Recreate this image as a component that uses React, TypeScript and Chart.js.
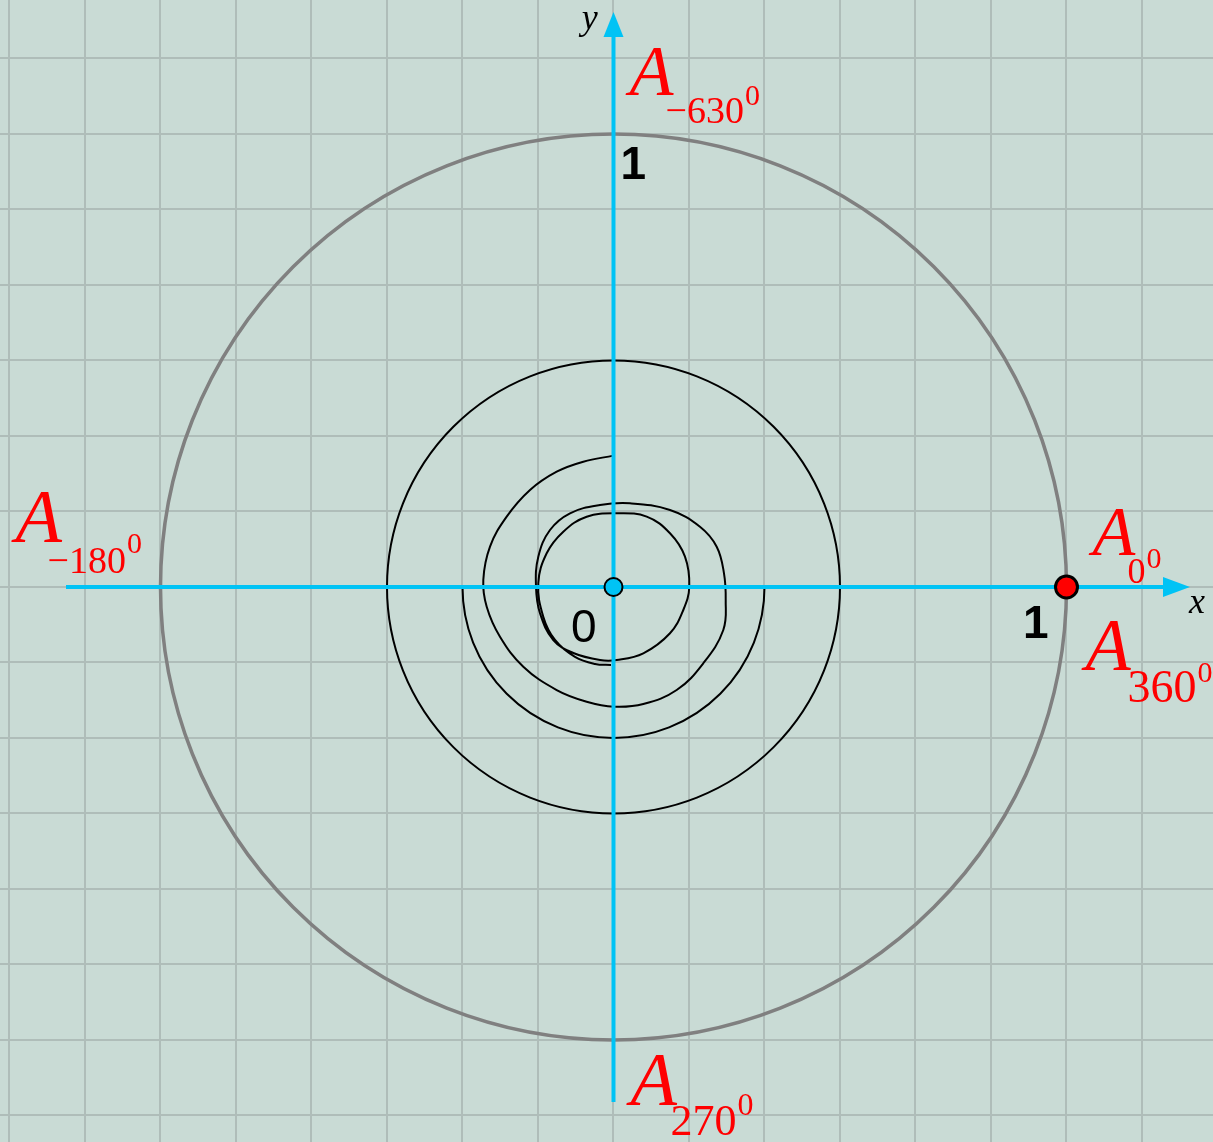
import React, { useEffect, useRef } from "react";
import { Chart, registerables } from "chart.js";

Chart.register(...registerables);

// ---- data (unit circle coordinates) ----
const X_RANGE = [-1.3543, 1.3234];
const Y_RANGE = [-1.2252, 1.2958];
const GRID_STEPS = [-8, -7, -6, -5, -4, -3, -2, -1, 0, 1, 2, 3, 4, 5, 6, 7, 8];
const GRID_DIVISOR = 6;

// circles: radius values
const CIRCLE_RADII = [1, 0.5];
const SEMI_RADIUS = 1 / 3;

// spiral
const SPIRAL_X = [
  0, -0.0667, -0.1254, -0.1843, -0.2358, -0.2726, -0.2874, -0.2799, -0.2506, -0.1991,
  -0.1254, -0.0592, 0.0011, 0.0658, 0.1395, 0.1982, 0.2424, 0.2477, 0.2439, 0.2278,
  0.1909, 0.1247, 0.0364, -0.0298, -0.096, -0.1402, -0.166, -0.1711, -0.1623, -0.1329,
  -0.0887, -0.0298, 0.0071, 0.0658, 0.1247, 0.1541, 0.1673, 0.1578, 0.1247, 0.0733,
  0.0071, -0.0592, -0.1108, -0.1475, -0.166, -0.155, -0.1291, -0.085, -0.0408, -0.0055,
];
const SPIRAL_Y = [
  0.29, 0.2766, 0.2545, 0.2141, 0.1552, 0.089, 0.0155, -0.0435, -0.1097, -0.1759,
  -0.2274, -0.2532, -0.2642, -0.2583, -0.2274, -0.1684, -0.0949, -0.0287, 0.0302, 0.089,
  0.1331, 0.17, 0.1848, 0.181, 0.1627, 0.1258, 0.0669, 0.0007, -0.0581, -0.117,
  -0.1457, -0.1611, -0.1611, -0.1464, -0.1022, -0.0508, 0.0007, 0.0669, 0.1185, 0.1552,
  0.1627, 0.1552, 0.1221, 0.0744, 0.0082, -0.0656, -0.117, -0.1545, -0.17, -0.1722,
];

// axes extents
const X_AXIS = [-1.2086, 1.213];
const X_ARROW_TIP = 1.2726;
const Y_AXIS = [-1.1369, 1.2141];
const Y_ARROW_TIP = 1.2693;

// marked points
const ORIGIN_POINT = [0, 0];
const A_POINT = [1, 0];

// angle labels
const ANGLE_LABELS = ["−630", "−180", "0", "360", "270"];
const ANGLE_ANCHORS = [
  [0.031, 1.086],
  [-1.3245, 0.0993],
  [1.053, 0.0706],
  [1.0375, -0.183],
  [0.033, -1.1435],
];
// tick-like labels
const NUM_LABELS = ["1", "1", "0"];
const NUM_ANCHORS = [
  [0.0155, 0.900],
  [0.9038, -0.1126],
  [-0.0938, -0.1214],
];

// ---- layout / style ----
const ANGLE_STYLE = [
  { a: 72, sub: 38, sup: 30, dx: 38, dy: 28, supDy: -18 },
  { a: 76, sub: 38, sup: 30, dx: 34, dy: 31, supDy: -20 },
  { a: 70, sub: 36, sup: 30, dx: 37, dy: 28, supDy: -15 },
  { a: 74, sub: 46, sup: 30, dx: 44, dy: 32, supDy: -20 },
  { a: 76, sub: 44, sup: 32, dx: 42, dy: 30, supDy: -20 },
];
const BG = "#c9dbd5";
const GRID = "#afbdb9";
const CYAN = "#00c3f5";

export default function App() {
  const ref = useRef<HTMLCanvasElement | null>(null);

  useEffect(() => {
    if (!ref.current) return;
    const gridValues = GRID_STEPS.map((k) => k / GRID_DIVISOR);

    const bgPlugin = {
      id: "bg",
      beforeDraw(chart: any) {
        const { ctx, width, height } = chart;
        const xs = chart.scales.x;
        const ys = chart.scales.y;
        ctx.save();
        ctx.fillStyle = BG;
        ctx.fillRect(0, 0, width, height);
        ctx.strokeStyle = GRID;
        ctx.lineWidth = 2;
        gridValues.forEach((v) => {
          const px = Math.round(xs.getPixelForValue(v));
          ctx.beginPath();
          ctx.moveTo(px, 0);
          ctx.lineTo(px, height);
          ctx.stroke();
          const py = Math.round(ys.getPixelForValue(v));
          ctx.beginPath();
          ctx.moveTo(0, py);
          ctx.lineTo(width, py);
          ctx.stroke();
        });
        ctx.restore();
      },
      beforeDatasetsDraw(chart: any) {
        const { ctx } = chart;
        const xs = chart.scales.x;
        const ys = chart.scales.y;
        const cx = xs.getPixelForValue(0);
        const cy = ys.getPixelForValue(0);
        ctx.save();
        CIRCLE_RADII.forEach((r, i) => {
          const rp = xs.getPixelForValue(r) - cx;
          ctx.beginPath();
          ctx.arc(cx, cy, rp, 0, Math.PI * 2);
          ctx.strokeStyle = i === 0 ? "#808080" : "#000000";
          ctx.lineWidth = i === 0 ? 3.5 : 2;
          ctx.stroke();
        });
        const sr = xs.getPixelForValue(SEMI_RADIUS) - cx;
        ctx.beginPath();
        ctx.arc(cx, cy, sr, 0, Math.PI);
        ctx.strokeStyle = "#000000";
        ctx.lineWidth = 2;
        ctx.stroke();
        ctx.restore();
      },
      afterDatasetsDraw(chart: any) {
        const { ctx } = chart;
        const xs = chart.scales.x;
        const ys = chart.scales.y;
        const cx = xs.getPixelForValue(0);
        const cy = ys.getPixelForValue(0);
        ctx.save();
        ctx.fillStyle = CYAN;
        const xb = xs.getPixelForValue(X_AXIS[1]);
        const xt = xs.getPixelForValue(X_ARROW_TIP);
        ctx.beginPath();
        ctx.moveTo(xt, cy);
        ctx.lineTo(xb, cy - 10);
        ctx.lineTo(xb, cy + 10);
        ctx.closePath();
        ctx.fill();
        const yb = ys.getPixelForValue(Y_AXIS[1]);
        const yt = ys.getPixelForValue(Y_ARROW_TIP);
        ctx.beginPath();
        ctx.moveTo(cx, yt);
        ctx.lineTo(cx - 10, yb);
        ctx.lineTo(cx + 10, yb);
        ctx.closePath();
        ctx.fill();
        ctx.restore();
      },
      afterDraw(chart: any) {
        const { ctx } = chart;
        const xs = chart.scales.x;
        const ys = chart.scales.y;
        ctx.save();
        ctx.textBaseline = "alphabetic";
        ctx.textAlign = "left";
        ANGLE_LABELS.forEach((t, i) => {
          const s = ANGLE_STYLE[i];
          const px = xs.getPixelForValue(ANGLE_ANCHORS[i][0]);
          const py = ys.getPixelForValue(ANGLE_ANCHORS[i][1]);
          ctx.fillStyle = "#ff0000";
          ctx.font = `italic ${s.a}px "Liberation Serif"`;
          ctx.fillText("A", px + 2, py);
          ctx.font = `${s.sub}px "Liberation Serif"`;
          const sx = px + s.dx;
          ctx.fillText(t, sx, py + s.dy);
          const w = ctx.measureText(t).width;
          ctx.font = `${s.sup}px "Liberation Serif"`;
          ctx.fillText("0", sx + w + 1, py + s.dy + s.supDy);
        });
        NUM_LABELS.forEach((t, i) => {
          const px = xs.getPixelForValue(NUM_ANCHORS[i][0]);
          const py = ys.getPixelForValue(NUM_ANCHORS[i][1]);
          ctx.fillStyle = "#000000";
          ctx.font = i < 2 ? `bold 46px "Liberation Sans"` : `46px "Liberation Sans"`;
          ctx.fillText(t, px, py);
        });
        ctx.fillStyle = "#000000";
        ctx.font = `italic 36px "Liberation Serif"`;
        ctx.fillText("y", xs.getPixelForValue(-0.07), ys.getPixelForValue(1.2318));
        ctx.fillText("x", xs.getPixelForValue(1.2704), ys.getPixelForValue(-0.057));
        ctx.restore();
      },
    };

    const pts = (xs: number[], ys: number[]) => xs.map((x, i) => ({ x, y: ys[i] }));

    const chart = new Chart(ref.current, {
      type: "scatter",
      data: {
        datasets: [
          {
            label: "spiral",
            data: pts(SPIRAL_X, SPIRAL_Y),
            showLine: true,
            borderColor: "#000000",
            borderWidth: 2,
            pointRadius: 0,
            pointHoverRadius: 0,
            tension: 0.4,
            order: 10,
          } as any,
          {
            label: "x-axis",
            data: [
              { x: X_AXIS[0], y: 0 },
              { x: X_AXIS[1], y: 0 },
            ],
            showLine: true,
            borderColor: CYAN,
            borderWidth: 4,
            pointRadius: 0,
            pointHoverRadius: 0,
            order: 5,
          } as any,
          {
            label: "y-axis",
            data: [
              { x: 0, y: Y_AXIS[0] },
              { x: 0, y: Y_AXIS[1] },
            ],
            showLine: true,
            borderColor: CYAN,
            borderWidth: 4,
            pointRadius: 0,
            pointHoverRadius: 0,
            order: 5,
          } as any,
          {
            label: "origin",
            data: [{ x: ORIGIN_POINT[0], y: ORIGIN_POINT[1] }],
            pointRadius: 9,
            pointBackgroundColor: CYAN,
            pointBorderColor: "#000000",
            pointBorderWidth: 2,
            order: 1,
          } as any,
          {
            label: "A",
            data: [{ x: A_POINT[0], y: A_POINT[1] }],
            pointRadius: 11,
            pointBackgroundColor: "#ff0000",
            pointBorderColor: "#000000",
            pointBorderWidth: 3,
            order: 1,
          } as any,
        ],
      },
      options: {
        responsive: false,
        animation: false,
        events: [],
        layout: { padding: 0, autoPadding: false },
        plugins: { legend: { display: false }, tooltip: { enabled: false } },
        scales: {
          x: { type: "linear", display: false, min: X_RANGE[0], max: X_RANGE[1] },
          y: { type: "linear", display: false, min: Y_RANGE[0], max: Y_RANGE[1] },
        },
      } as any,
      plugins: [bgPlugin],
    });
    return () => chart.destroy();
  }, []);

  return (
    <div style={{ position: "absolute", left: 0, top: 0, width: 1213, height: 1142 }}>
      <canvas ref={ref} width={1213} height={1142} style={{ display: "block" }} />
    </div>
  );
}
